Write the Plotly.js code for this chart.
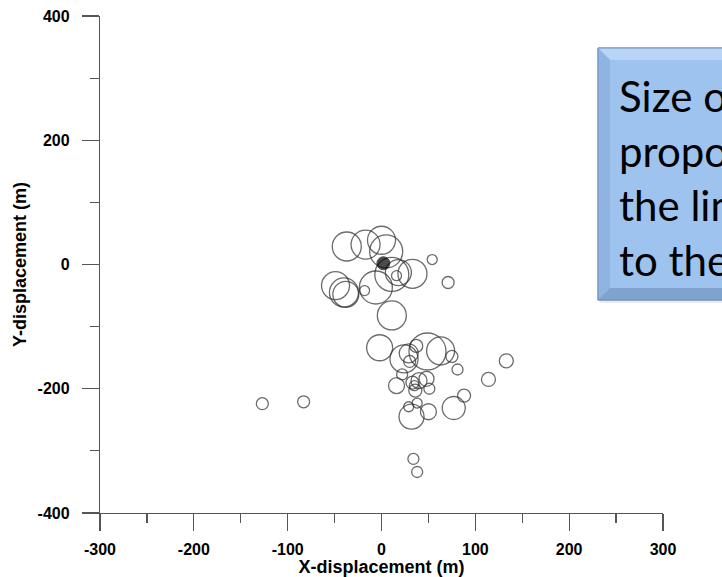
<!DOCTYPE html>
<html>
<head>
<meta charset="utf-8">
<script src="https://cdn.plot.ly/plotly-3.0.1.min.js"></script>
<style>
  html, body { margin: 0; padding: 0; background: #ffffff; overflow: hidden; }
  #chart { width: 722px; height: 577px; }
</style>
</head>
<body>
<div id="chart"></div>
<script>
// Displacement of each event (m) and its circle diameter (px)
const xDisp = [
  -37, -17, 0, 5, 11, 16, 33, 18, 54, 71, -6, -49, -40, -38, -18, 11,
  -2, 49, 24, 29, 37, 30, 63, 75, 81, 133, 114, -83, -127,
  22, 16, 33, 40, 48, 36, 51, 35, 88, 77, 38, 29, 50, 32, 34, 38
];
const yDisp = [
  29, 32, 39, 21, -16, -18, -15, -13, 8, -29, -37, -34, -45, -48, -42, -82,
  -134, -140, -152, -143, -131, -156, -139, -148, -169, -155, -185, -221, -224,
  -177, -195, -190, -187, -184, -203, -200, -195, -211, -231, -223, -229, -237, -245, -313, -334
];
const circleSize = [
  29, 29, 28, 33, 34, 10, 29, 26, 10, 12, 33, 28, 29, 26, 10, 29,
  26, 37, 28, 19, 13, 12, 28, 12, 11, 14, 14, 12, 12,
  11, 16, 13, 16, 15, 13, 11, 10, 13, 23, 10, 10, 16, 25, 11, 11
];

// Reference point at the origin
const originX = [2];
const originY = [2];
const originSize = [13];

// Scale circle placed beside the axes
const scaleX = [352];
const scaleY = [-400];
const scaleSize = [20];

const xTicks = [-300, -200, -100, 0, 100, 200, 300];
const yTicks = [-400, -200, 0, 200, 400];

const boxLines = ['Size of', 'proportional', 'the line', 'to the'];

// plot area in pixels, used to place the note box in paper units
const plotL = 100, plotR = 663, plotT = 16, plotB = 513;
const px = v => (v - plotL) / (plotR - plotL);
const py = v => (plotB - v) / (plotB - plotT);

const ringLine = { color: '#2e2e2e', width: 1.3 };

const traces = [
  {
    type: 'scatter', mode: 'markers', x: xDisp, y: yDisp,
    marker: { size: circleSize, color: 'rgba(0,0,0,0)', line: ringLine },
    cliponaxis: false, hoverinfo: 'skip', showlegend: false
  },
  {
    type: 'scatter', mode: 'markers', x: originX, y: originY,
    marker: { size: originSize, color: '#000000', line: { color: '#000000', width: 1 } },
    cliponaxis: false, hoverinfo: 'skip', showlegend: false
  },
  {
    type: 'scatter', mode: 'markers', x: scaleX, y: scaleY,
    marker: { size: scaleSize, color: 'rgba(0,0,0,0)', line: { color: '#555555', width: 1.2 } },
    cliponaxis: false, hoverinfo: 'skip', showlegend: false
  }
];

// bevelled blue note box
const bx0 = 598, bx1 = 760, by0 = 48, by1 = 300, bev = 12;
function poly(pts) {
  return 'M' + pts.map(p => px(p[0]).toFixed(5) + ',' + py(p[1]).toFixed(5)).join(' L') + ' Z';
}
const shapes = [
  { type: 'rect', xref: 'paper', yref: 'paper', x0: px(bx0 + 2), x1: px(bx1 + 2), y0: py(by1 + 3), y1: py(by0 + 3),
    fillcolor: 'rgba(0,0,0,0.08)', line: { width: 0 }, layer: 'above' },
  { type: 'rect', xref: 'paper', yref: 'paper', x0: px(bx0), x1: px(bx1), y0: py(by1), y1: py(by0),
    fillcolor: '#9dc3ee', line: { color: '#7393c0', width: 1 }, layer: 'above' },
  { type: 'path', xref: 'paper', yref: 'paper', layer: 'above', line: { width: 0 }, fillcolor: '#b9d5f5',
    path: poly([[bx0, by0], [bx1, by0], [bx1, by0 + bev], [bx0 + bev, by0 + bev]]) },
  { type: 'path', xref: 'paper', yref: 'paper', layer: 'above', line: { width: 0 }, fillcolor: '#8fb4e2',
    path: poly([[bx0, by0], [bx0 + bev, by0 + bev], [bx0 + bev, by1 - bev], [bx0, by1]]) },
  { type: 'path', xref: 'paper', yref: 'paper', layer: 'above', line: { width: 0 }, fillcolor: '#7fa2cf',
    path: poly([[bx0, by1], [bx0 + bev, by1 - bev], [bx1, by1 - bev], [bx1, by1]]) },
  { type: 'rect', xref: 'paper', yref: 'paper', x0: px(bx0), x1: px(bx1), y0: py(by1), y1: py(by0),
    fillcolor: 'rgba(0,0,0,0)', line: { color: '#6f8fbb', width: 1 }, layer: 'above' }
];

const annotations = [{
  xref: 'paper', yref: 'paper', x: px(617), y: py(178),
  xanchor: 'left', yanchor: 'middle', align: 'left', showarrow: false,
  text: boxLines.join('<br>'),
  font: { family: 'Lato, "Liberation Sans", sans-serif', size: 42, color: '#000000' }
}];

const tickFont = { family: '"Liberation Sans", Arial, sans-serif', size: 16, color: '#000000', weight: 'bold' };
const titleFont = { family: '"Liberation Sans", Arial, sans-serif', size: 18, color: '#000000', weight: 'bold' };

const layout = {
  width: 722, height: 577,
  margin: { l: plotL, r: 722 - plotR, t: plotT, b: 577 - plotB, pad: 0 },
  paper_bgcolor: '#ffffff', plot_bgcolor: '#ffffff',
  showlegend: false, hovermode: false,
  xaxis: {
    range: [-300, 300], tickvals: xTicks, ticktext: xTicks.map(String),
    showgrid: false, zeroline: false, showline: true, linecolor: '#555555', linewidth: 1.2,
    ticks: 'outside', ticklen: 17, tickwidth: 1.2, tickcolor: '#555555',
    minor: { dtick: 50, tick0: 0, ticks: 'outside', ticklen: 9, tickwidth: 1.2, tickcolor: '#555555', showgrid: false },
    tickfont: tickFont, ticklabelstandoff: 5,
    title: { text: 'X-displacement (m)', font: titleFont, standoff: 2 },
    fixedrange: true
  },
  yaxis: {
    range: [-400, 400], tickvals: yTicks, ticktext: yTicks.map(String),
    showgrid: false, zeroline: false, showline: true, linecolor: '#555555', linewidth: 1.2,
    ticks: 'outside', ticklen: 17, tickwidth: 1.2, tickcolor: '#555555',
    minor: { dtick: 100, tick0: 0, ticks: 'outside', ticklen: 9, tickwidth: 1.2, tickcolor: '#555555', showgrid: false },
    tickfont: tickFont, ticklabelstandoff: 9,
    title: { text: 'Y-displacement (m)', font: titleFont, standoff: 6 },
    fixedrange: true
  },
  shapes: shapes,
  annotations: annotations
};

Plotly.newPlot('chart', traces, layout, { displayModeBar: false, staticPlot: true });
</script>
</body>
</html>
